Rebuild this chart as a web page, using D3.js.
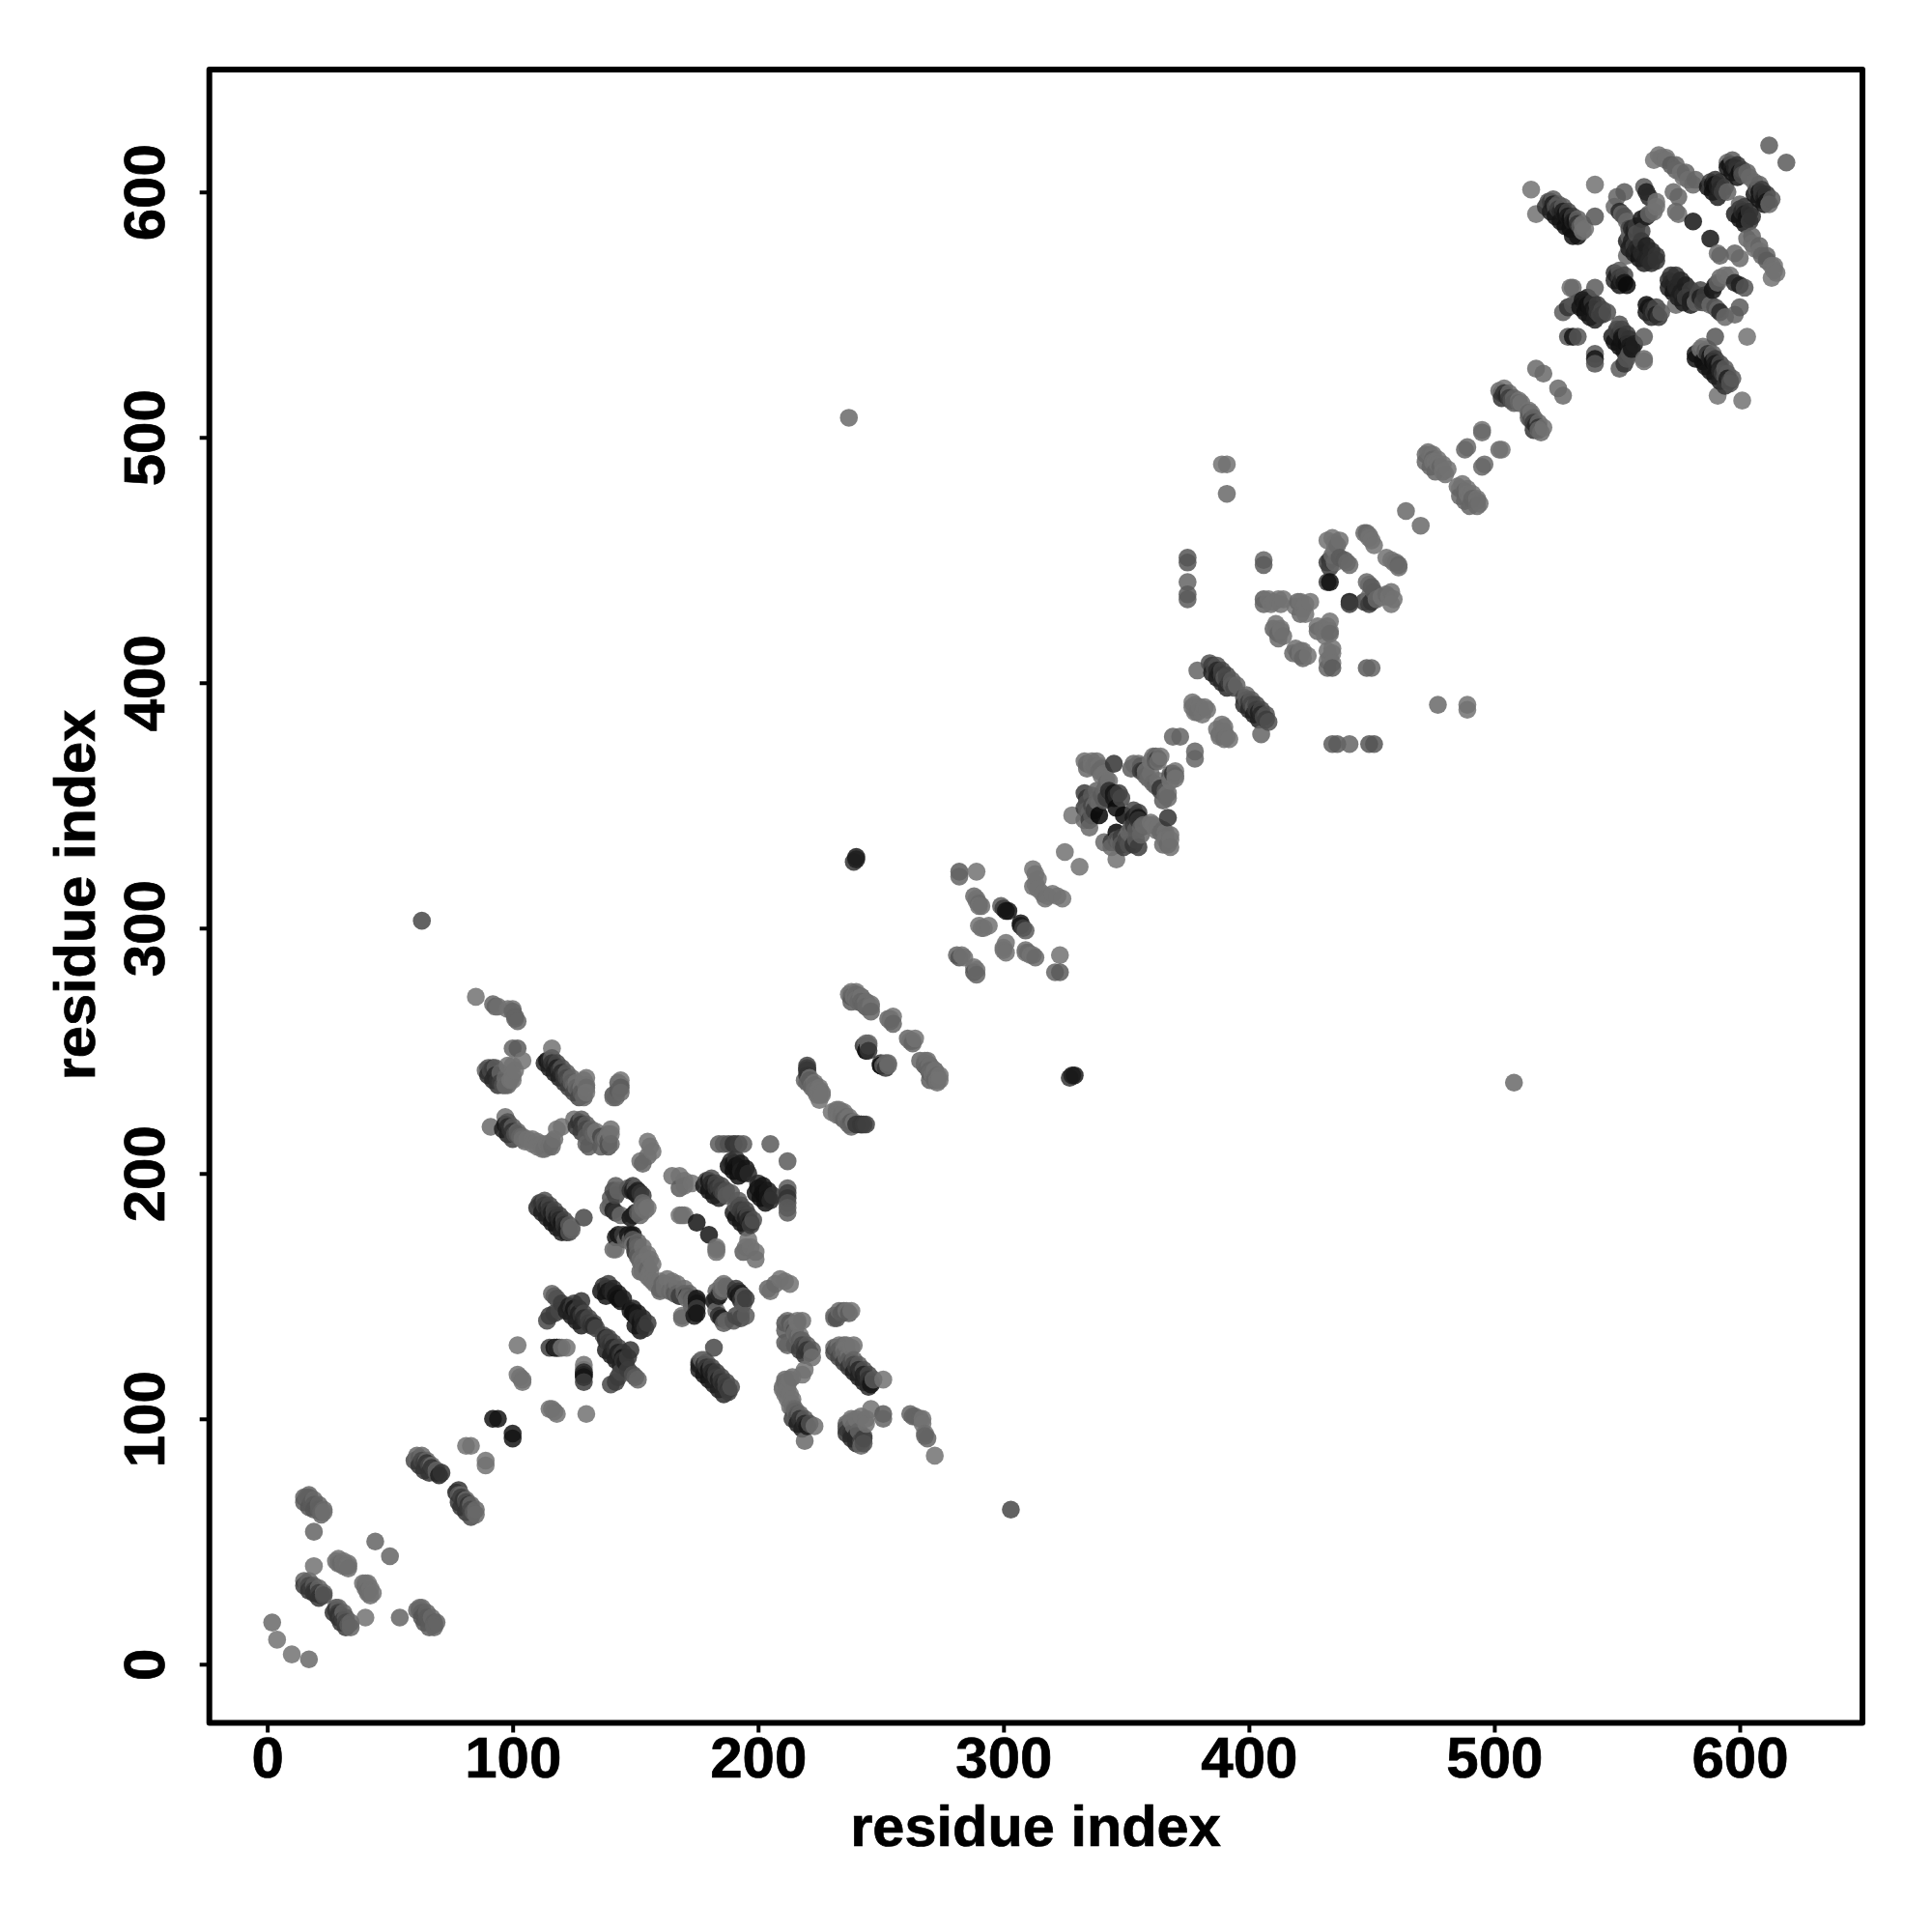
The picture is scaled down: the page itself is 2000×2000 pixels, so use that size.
<!DOCTYPE html>
<html><head><meta charset="utf-8">
<script src="https://cdn.jsdelivr.net/npm/d3@7"></script>
<style>html,body{margin:0;padding:0;background:#fff}text{font-family:"Liberation Sans",sans-serif;font-weight:bold;fill:#000;stroke:#000;stroke-width:.7px}</style>
</head><body><svg id="c" width="2000" height="2000"></svg>
<script>
// contacts as [residue i, residue j, grey level]; the map is symmetric, one triangle listed
const domainA=[[2,17,105],[4,10,114],[15,68,100],[16,68,100],[17,68,95],[18,66,90],[19,65,90],[20,64,85],[21,63,95],[22,62,100],[22,61,100],[19,54,100],[19,40,114],[15,34,100],[16,33,90],[17,32,70],[18,31,60],[19,30,60],[20,29,50],[21,29,60],[22,28,50],[23,28,80],[28,42,110],[29,41,110],[30,41,105],[31,40,110],[32,40,110],[33,39,110],[44,50,100],
[61,85,105],[62,84,90],[63,83,70],[64,82,60],[65,82,50],[66,81,70],[67,80,50],[68,79,60],[69,78,90],[70,77,30],[81,89,114],[83,89,114],[92,100,20],[94,100,20],[102,130,114],[102,118,114],[103,117,114],[104,116,114],[104,115,114]];
const bandsA=[[15,32,60],[17,30,50],[19,29,50],[21,27,50],[17,34,100],[19,32,90],[21,31,100],[23,29,100],[17,69,100],[19,67,105],[21,65,100],[23,63,105],[23,62,110],[15,66,90],[17,64,85],[19,63,85],[63,85,105],[65,83,100],[67,81,105],[69,79,100],[71,78,50],[60,83,70],[62,81,50],[64,79,50],[66,78,50],[29,43,114],[31,42,114],[33,41,114],[33,40,114]];
const domainB=[[85,272,114],[92,269,100],[93,268,100],[94,268,110],[98,267,114],[100,267,114],[100,266,100],[101,264,100],[101,263,100],[102,262,100],[100,251,100],[102,251,90],[104,246,114],[100,244,114],[89,242,100],[90,243,80],[91,242,70],[92,243,60],[93,240,40],[94,238,50],[95,237,60],[96,236,80],[98,236,100],[100,238,114],[100,240,114],[101,242,114],[98,244,114],
[116,251,114],[114,246,20],[115,246,40],[116,245,50],[117,244,40],[118,243,30],[119,242,50],[120,241,40],[121,240,60],[122,239,70],[123,238,80],[124,237,90],[125,236,100],[126,235,100],[127,234,90],[128,233,90],[129,232,90],[129,238,114],[130,239,114],[130,236,114],[129,231,100],[144,238,114],[144,236,114],[143,234,90],[141,232,80],[142,231,100],
[91,219,105],[97,223,110],[97,220,25],[98,219,40],[99,218,50],[100,217,50],[101,216,80],[102,216,90],[103,215,100],[104,214,110],[105,213,110],[108,212,114],[110,211,114],[112,210,114],[113,210,110],[115,211,110],[116,211,105],[117,214,110],[118,218,114],[120,219,114],
[125,222,110],[127,221,50],[128,220,50],[129,219,60],[130,218,70],[132,217,90],[133,216,100],[135,215,110],[130,212,100],[131,211,90],[136,211,90],[139,216,114],[139,213,85],[139,211,80],[155,213,114],[156,211,114],[157,209,114],[155,207,105],[153,204,100],[152,205,110]];
const bandsB=[[113,245,40],[115,243,30],[117,241,30],[119,239,30],[121,237,50],[123,235,60],[125,233,70],[127,231,70],[116,247,90],[118,245,70],[120,243,80],[122,241,90],[124,239,100],[126,237,114],[128,235,114],[130,233,114],[130,235,105],[90,240,40],[92,238,40],[94,236,50],[93,243,90],[95,241,100],[97,239,105],[99,238,114],[97,236,105],[96,218,30],[98,216,30],[100,214,60],[98,221,80],[100,219,90],[102,217,100],[104,215,105],[106,214,114],[108,214,114],[110,213,114],[112,212,114],[114,212,114],[116,213,114],[126,219,50],[128,217,60],[130,215,90],[128,222,90],[130,220,90],[132,218,100],[134,217,114],[136,215,114],[138,214,114]];
const domainC=[[111,188,60],[112,188,50],[113,187,60],[114,186,40],[115,185,50],[116,184,30],[117,183,60],[118,182,30],[119,181,40],[120,180,20],[121,179,50],[122,178,40],[122,176,30],[123,176,80],[124,177,100],[129,182,70],
[141,193,70],[142,191,70],[139,186,90],[140,187,100],[141,185,30],[142,184,50],[144,183,105],[147,194,90],[148,193,50],[149,193,30],[150,192,20],[151,191,30],[148,182,20],[149,183,30],[151,184,90],[152,185,100],[153,186,110],[154,187,105],
[142,174,25],[146,173,100],[147,175,20],[148,175,30],[149,173,90],[150,171,50],[142,169,114],[150,168,100],[151,167,100],[152,165,110],[153,164,114],[154,162,110],[155,161,100],[152,160,100],
[153,160,114],[157,156,114],[160,153,114],[162,153,110],[164,152,105],[166,151,90],[168,150,60],[171,149,114],[173,148,100],[175,149,20],[169,141,105],[175,145,60],[175,143,20],
[116,151,100],[117,150,90],[118,149,80],[120,147,60],[115,142,60],[114,140,70],[117,143,60],[119,144,70],[128,148,50],[123,146,30],[124,145,50],[125,145,20],[126,144,50],[127,143,30],[128,142,50],[129,141,40],[130,140,50],[131,139,60],[132,138,50],[133,138,40],[134,137,70],[137,154,50],[138,153,30],[139,152,20],[140,152,30],[141,151,40],[142,150,20],[143,149,15],[144,148,15],
[115,129,60],[117,129,20],[118,129,80],[120,129,114],[129,122,114],[129,118,30],[129,119,40]];
const bandsC=[[110,186,40],[112,184,30],[114,182,30],[116,180,20],[118,178,20],[120,176,30],[113,189,80],[115,187,70],[117,185,70],[119,183,60],[121,181,70],[123,179,90],[124,178,105],[142,195,90],[140,190,85],[143,193,100],[150,194,90],[152,192,50],[153,191,60],[149,195,60],[151,193,30],[150,184,30],[152,183,100],[154,185,110],[155,186,114],[153,188,105],[122,144,30],[124,142,30],[126,140,30],[128,138,30],[125,147,60],[127,145,60],[129,143,70],[131,141,70],[133,139,70],[136,152,20],[138,150,20],[139,155,60],[141,153,40],[143,151,25],[145,149,30],[151,172,100],[153,170,110],[155,167,114],[156,165,114],[157,163,114],[156,160,114],[158,155,114],[162,155,114],[166,153,105],[170,151,100]];
const domainD=[[165,199,110],[168,199,114],[170,197,114],[168,194,90],[170,195,110],[173,196,114],[168,183,114],[170,183,114],[175,180,20],[169,183,110],
[184,212,90],[186,212,90],[188,212,80],[190,212,50],[192,212,60],[194,212,90],[205,212,90],[179,197,60],[180,197,25],[181,196,40],[182,195,30],[183,194,50],[184,194,60],[185,193,60],[186,192,70],[187,191,90],[189,205,40],[190,204,20],[191,203,15],[192,202,15],[193,201,30],[194,200,20],
[233,144,105],[235,144,90],[237,143,90],[231,141,105],
[212,140,105],[213,139,90],[214,137,100],[215,136,70],[216,140,114],[218,140,110]];
const bandsD=[[178,195,25],[180,193,20],[182,191,20],[184,190,30],[181,198,80],[183,196,70],[185,195,70],[187,193,80],[189,192,90],[188,203,15],[190,201,15],[192,199,15],[191,206,50],[193,204,25],[195,202,20],[196,200,40]];
const domainE=[[237,273,110],[238,272,100],[239,272,105],[240,271,100],[241,270,100],[242,270,100],[243,269,100],[244,268,100],[245,268,105],[253,263,100],[254,262,114],[261,255,100],[263,254,110],[264,255,114],[243,252,50],[244,250,20],[245,250,50],[244,253,105],[250,244,20],[251,244,90],[252,245,100],[253,245,100],[266,246,100],[268,244,105],[269,243,100],[270,241,105],[271,240,110],[272,239,110],[273,238,114],
[220,244,65],[220,242,60],[219,238,100],[222,236,110],[223,234,110],[224,233,114],[225,232,114],[230,225,114],[232,224,114],[234,224,110],[235,222,100],[237,220,100],[240,220,50],[242,220,55],[243,220,60],
[63,303,70],[240,328,30],[239,327,50],[240,329,25],[237,508,105]];
const bandsE=[[240,273,105],[242,272,105],[244,270,105],[246,269,110],[246,268,114],[238,270,90],[270,244,110],[272,242,114],[274,240,114],[274,238,114],[221,239,114],[223,237,114],[225,235,114],[226,233,114],[232,226,114],[234,225,114],[236,223,105],[238,221,90]];
const domainF=[[282,323,90],[282,321,100],[289,323,114],[288,313,105],[289,311,114],[290,309,114],[290,310,105],[289,312,114],[291,309,110],[299,309,90],[300,308,60],[301,307,20],[302,307,20],[290,301,114],[291,300,114],[292,300,114],[294,301,114],[281,289,100],[282,288,80],[283,289,114],[284,288,110],[312,324,114],[313,322,114],[314,320,114],[313,318,114],[312,317,110],[314,316,114],[325,331,114]];
const domainG=[[333,368,110],[334,367,105],[334,365,105],[336,366,114],[337,366,110],[339,366,114],[340,365,105],[341,363,114],[342,361,114],[342,359,105],[345,367,50],[352,365,90],[353,367,105],[355,367,110],[356,366,90],[357,364,50],[358,362,100],[359,361,105],[361,370,114],[362,370,100],[363,369,50],[363,368,110],
[333,355,60],[334,353,50],[334,351,80],[333,349,60],[334,348,90],[335,347,100],[336,346,90],[337,350,105],[338,352,100],[339,351,105],[340,354,90],[341,356,100],[342,357,105],[343,356,45],[344,355,50],[345,355,20],[346,354,40],[339,346,5],[328,346,114],[335,341,105],[333,344,105],[335,344,60],[346,349,10],
[369,378,100],[372,378,100]];
const bandsG=[[336,368,114],[338,368,110],[339,364,105],[340,362,114],[343,360,114],[338,356,100],[336,354,90],[337,348,60],[336,350,70],[342,353,60],[341,352,90],[354,366,105],[356,364,60],[358,364,114],[360,363,110],[360,368,114],[364,370,114],[362,368,90],[345,353,25],[347,355,60],[348,353,70]];
const domainH=[[375,449,85],[375,451,85],[375,441,100],[375,436,90],[375,434,90],[379,405,100],
[377,392,114],[378,391,114],[380,390,114],[382,390,114],[383,389,114],[381,387,114],[379,388,110],[378,388,114],[377,390,110],
[384,408,80],[385,407,60],[386,406,70],[387,405,40],[388,404,30],[389,403,60],[390,402,90],[391,401,70],[392,400,60],[393,399,90],[394,398,70],[385,404,30],[387,402,30],[389,400,40],[391,398,40],[387,407,80],[389,405,70],[391,403,70],[393,401,90],[395,399,100],
[389,489,114],[391,489,114],[391,477,105],[406,450,100],[406,448,90],[406,434,90],[408,434,114],[410,433,114],[412,434,114],[414,434,114],[420,433,105],[421,433,114],[423,432,114],[425,433,114],[421,428,105],[410,422,100],[411,421,114],[412,420,100],[413,421,114],[411,424,114],[413,422,114],[414,419,110],[412,418,105],[406,432,100],[409,432,114],[413,432,114],[419,431,114],[423,428,114],[422,430,114],
[432,458,114],[434,459,114],[435,457,114],[436,456,105],[437,458,110],[435,454,114],[434,452,105],[433,450,50],[432,449,60],[433,447,60],[435,449,105],[437,451,90],[439,450,90],[440,449,105],[441,448,105],[433,441,15],[432,441,60],[448,461,100],[449,460,110],[450,458,114],[451,456,114],[449,459,114],[447,461,105]];
const domainI=[[464,470,105],[472,493,105],[473,494,110],[474,493,110],[475,491,100],[476,490,114],[477,489,114],[478,488,100],[479,486,114],[480,485,110],[475,490,114],[495,503,114],[495,502,105],[488,495,100],[489,496,105],[502,519,105],[503,518,100],[504,518,50],[505,517,40],[506,516,60],[507,515,80],[508,514,90],[510,514,100],[517,528,105],[520,526,105]];
const bandsI=[[475,493,114],[477,491,114],[479,489,114],[481,487,114],[472,490,100],[474,488,100],[476,486,100],[504,520,114],[506,518,105],[508,516,100],[510,515,114],[511,514,114],[503,516,50]];
const domainJ=[[515,601,114],[517,591,114],[541,603,114],[541,590,85],[522,596,80],[523,596,60],[524,595,30],[525,594,80],[526,593,60],[527,592,40],[528,592,30],[529,591,20],[530,590,25],[531,589,15],[532,588,30],[533,588,20],[534,587,50],[535,586,90],[536,584,114],[532,582,15],[534,582,20],
[553,600,90],[550,598,100],[549,594,105],[551,592,40],[553,590,80],[552,591,100],[554,588,105],[561,602,85],[562,600,30],[563,598,40],[566,596,114],[566,594,114],[565,592,105],[562,590,30],[560,589,20],[563,591,100],
[565,613,114],[568,614,114],[570,613,114],[572,611,90],[574,609,100],[576,608,114],[577,606,114],[579,605,110],[581,603,105],[573,600,105],[575,598,100],[575,591,110],[574,592,100],[581,588,20],[588,604,60],[589,603,20],[590,603,15],[591,602,30],[592,601,40],[593,600,60],[595,612,105],[596,611,20],[597,610,30],[598,610,40],[599,609,50],[600,608,15],[601,607,80],[612,619,90],
[555,585,70],[556,585,40],[557,584,30],[558,583,80],[556,580,30],[555,582,100],[557,578,60],[558,577,40],[559,576,30],[560,575,40],[561,574,40],[562,573,35],[563,572,40],[564,571,45],[554,574,105],[549,567,50],[550,566,30],[551,565,60],[552,564,40],[553,563,20],[554,562,10],
[531,561,110],[541,561,90],[528,551,90],[530,553,50],[532,554,85],[534,555,85],[536,556,20],[537,555,25],[538,554,15],[539,553,20],[540,552,20],[541,552,30],[542,551,55],[543,550,65],[544,550,60],[530,541,85],[532,541,20],[534,541,85],[532,561,105]];
const bandsJ=[[521,594,50],[523,592,30],[525,590,20],[527,588,20],[529,586,15],[531,585,15],[524,597,90],[526,595,90],[528,594,90],[530,592,70],[532,590,60],[534,589,100],[536,587,114],[537,585,114],[549,564,40],[551,562,20],[551,568,90],[553,566,70],[535,553,20],[537,551,15],[539,549,20],[541,548,30],[538,557,30],[540,555,50],[542,554,60],[544,552,70],[546,551,80],[554,580,30],[555,577,30],[557,575,30],[559,573,20],[561,571,30],[558,586,60],[560,584,70],[560,580,60],[562,578,30],[564,576,40],[566,574,50],[566,572,50],[587,602,20],[589,600,15],[591,598,30],[590,605,50],[592,604,50],[594,602,60],[595,600,100],[595,610,20],[597,608,20],[599,606,20],[597,613,90],[599,611,50],[601,609,60],[603,608,100],[604,606,105],[567,615,114],[570,614,114],[574,611,100],[578,608,100],[582,605,100]];

const xTickValues=[0,100,200,300,400,500,600];
const yTickValues=[0,100,200,300,400,500,600];
const axisTitle="residue index";

const box={l:216.7,r:1928,t:72,b:1783.5};
const x=d3.scaleLinear().domain([-23.6,650]).range([box.l,box.r]);
const y=d3.scaleLinear().domain([-23.9,649.9]).range([box.b,box.t]);
const svg=d3.select("#c");
const upper=[domainA,bandsA,domainB,bandsB,domainC,bandsC,domainD,bandsD,domainE,bandsE,domainF,domainG,bandsG,domainH,domainI,bandsI,domainJ,bandsJ].flat();
const contacts=upper.flatMap(([i,j,g])=>[{i,j,g},{i:j,j:i,g}]).sort((a,b)=>d3.ascending(a.i,b.i)||d3.descending(a.j,b.j));
svg.append("g").selectAll("circle").data(contacts).join("circle")
 .attr("cx",d=>x(d.i)).attr("cy",d=>y(d.j)).attr("r",9.3)
 .attr("fill",d=>`rgb(${d.g},${d.g},${d.g})`).attr("fill-opacity",0.85);
svg.append("rect").attr("x",box.l).attr("y",box.t).attr("width",box.r-box.l).attr("height",box.b-box.t)
 .attr("fill","none").attr("stroke","#000").attr("stroke-width",6).attr("stroke-linejoin","round");
const ax=svg.append("g").attr("transform",`translate(0,${box.b})`).call(d3.axisBottom(x).tickValues(xTickValues).tickSize(10).tickFormat(d3.format("d")));
ax.select(".domain").remove();
ax.selectAll("line").attr("stroke","#000").attr("stroke-width",4);
ax.selectAll("text").attr("y",0).attr("dy",0).attr("transform",`translate(0,${1839.5-box.b})`).attr("text-anchor","middle").style("font-size","60px").style("font-family",'"Liberation Sans"').style("font-weight","bold");
const ay=svg.append("g").attr("transform",`translate(${box.l},0)`).call(d3.axisLeft(y).tickValues(yTickValues).tickSize(10).tickFormat(d3.format("d")));
ay.select(".domain").remove();
ay.selectAll("line").attr("stroke","#000").attr("stroke-width",4);
ay.selectAll("text").attr("x",0).attr("dy",0).attr("transform",`translate(${170-box.l},0) rotate(-90)`).attr("text-anchor","middle").style("font-size","60px").style("font-family",'"Liberation Sans"').style("font-weight","bold");
svg.append("text").attr("x",1072).attr("y",1910.7).attr("text-anchor","middle").style("font-size","59.5px").text(axisTitle);
svg.append("text").attr("transform","translate(98.3,926.5) rotate(-90)").attr("text-anchor","middle").style("font-size","59.5px").text(axisTitle);
</script></body></html>
